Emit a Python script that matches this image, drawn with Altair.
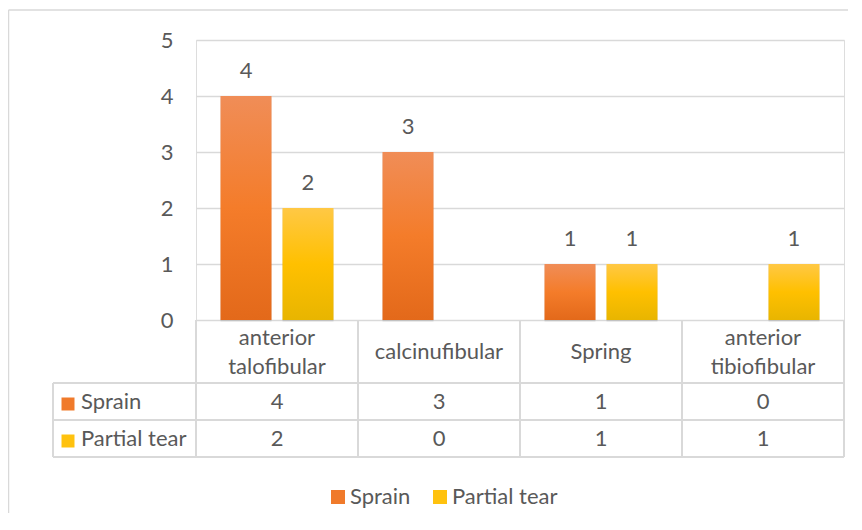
import altair as alt
import pandas as pd

categories = ["anterior talofibular", "calcinufibular", "Spring", "anterior tibiofibular"]
series = ["Sprain", "Partial tear"]
sprain = [4, 3, 1, 0]
partial_tear = [2, 0, 1, 1]
y_ticks = [0, 1, 2, 3, 4, 5]

rows = []
for c, s, p in zip(categories, sprain, partial_tear):
    rows.append({"category": c, "series": "Sprain", "value": s})
    rows.append({"category": c, "series": "Partial tear", "value": p})
df = pd.DataFrame(rows)
cat_df = pd.DataFrame({"category": categories})
ser_df = pd.DataFrame({"series": series})

FONT = "Lato"
TXT = "#595959"
LINE = "#d9d9d9"
FS = 22
W, H = 648, 280

orange_grad = alt.LinearGradient(
    gradient="linear", x1=0, x2=0, y1=0, y2=1,
    stops=[alt.GradientStop(color="#F08D57", offset=0),
           alt.GradientStop(color="#F47C2A", offset=0.5),
           alt.GradientStop(color="#E3691A", offset=1)])
yellow_grad = alt.LinearGradient(
    gradient="linear", x1=0, x2=0, y1=0, y2=1,
    stops=[alt.GradientStop(color="#FFC845", offset=0),
           alt.GradientStop(color="#FFC000", offset=0.5),
           alt.GradientStop(color="#E8B500", offset=1)])

xenc = alt.X("category:N", sort=categories,
             scale=alt.Scale(domain=categories, paddingInner=0, paddingOuter=0), axis=None)
xoff = alt.XOffset("series:N", sort=series,
                   scale=alt.Scale(domain=series, paddingInner=0.177, paddingOuter=0.395))
yenc = alt.Y("value:Q", scale=alt.Scale(domain=[0, 5]),
             axis=alt.Axis(values=y_ticks, title=None, ticks=False, domain=False,
                           labelPadding=23, grid=True, gridColor=LINE, gridWidth=1.5,
                           labelFont=FONT, labelFontSize=FS, labelColor=TXT))

base = alt.Chart(df).transform_filter("datum.value > 0")

shadow = base.mark_bar(color="#000000", opacity=0.10, xOffset=2.5, yOffset=1.5).encode(
    x=xenc, xOffset=xoff, y=yenc)
bars_s = base.transform_filter("datum.series == 'Sprain'").mark_bar(color=orange_grad).encode(
    x=xenc, xOffset=xoff, y=yenc)
bars_p = base.transform_filter("datum.series == 'Partial tear'").mark_bar(color=yellow_grad).encode(
    x=xenc, xOffset=xoff, y=yenc)
labels = base.mark_text(font=FONT, fontSize=FS, color=TXT, baseline="middle", dy=-25).encode(
    x=xenc, xOffset=xoff, y=yenc, text="value:Q")

one = alt.Data(values=[{}])
rule_style = dict(color=LINE, strokeWidth=2)

# table grid lines
hlines = [
    alt.Chart(one).mark_rule(**rule_style).encode(
        x=alt.value(-143), x2=alt.value(W), y=alt.value(yy))
    for yy in (343, 380, 417)
]
vcat = alt.Chart(cat_df).mark_rule(**rule_style).encode(
    x=alt.X("category:N", sort=categories, bandPosition=0,
            scale=alt.Scale(domain=categories, paddingInner=0, paddingOuter=0), axis=None),
    y=alt.value(H), y2=alt.value(417))
vend = alt.Chart(one).mark_rule(**rule_style).encode(
    x=alt.value(W), y=alt.value(H), y2=alt.value(417))
vleft = alt.Chart(one).mark_rule(**rule_style).encode(
    x=alt.value(-143), y=alt.value(343), y2=alt.value(417))

# outer chart border
border_l = alt.Chart(one).mark_rule(color=LINE, strokeWidth=1.5).encode(
    x=alt.value(-187.5), y=alt.value(-30), y2=alt.value(600))
border_t = alt.Chart(one).mark_rule(color=LINE, strokeWidth=1.5).encode(
    x=alt.value(-187.5), x2=alt.value(900), y=alt.value(-30))

header_multi = alt.Chart(cat_df).transform_filter("indexof(datum.category, ' ') >= 0").mark_text(
    font=FONT, fontSize=FS, color=TXT, baseline="middle",
    lineBreak=" ", lineHeight=29, dy=-14).encode(
    x=xenc, y=alt.value(312), text="category:N")
header_single = alt.Chart(cat_df).transform_filter("indexof(datum.category, ' ') < 0").mark_text(
    font=FONT, fontSize=FS, color=TXT, baseline="middle").encode(
    x=xenc, y=alt.value(312), text="category:N")

row_y = {"Sprain": 362, "Partial tear": 399}
table_vals = [
    alt.Chart(df).transform_filter(f"datum.series == '{s}'").mark_text(
        font=FONT, fontSize=FS, color=TXT, baseline="middle").encode(
        x=xenc, y=alt.value(row_y[s]), text="value:Q")
    for s in series
]
row_names = [
    alt.Chart(ser_df).transform_filter(f"datum.series == '{s}'").mark_text(
        font=FONT, fontSize=FS, color=TXT, baseline="middle", align="left").encode(
        x=alt.value(-115), y=alt.value(row_y[s]), text="series:N")
    for s in series
]
color_enc = alt.Color("series:N", sort=series,
                      scale=alt.Scale(domain=series, range=["#F07A2B", "#FFC20E"]),
                      legend=alt.Legend(orient="none", legendX=131, legendY=446,
                                        direction="horizontal", title=None,
                                        symbolType="square", symbolSize=196,
                                        symbolStrokeWidth=0, symbolOpacity=1,
                                        labelFont=FONT, labelFontSize=FS, labelColor=TXT,
                                        labelOffset=1, columnPadding=18, padding=0))
row_squares = [
    alt.Chart(ser_df).transform_filter(f"datum.series == '{s}'").mark_square(
        size=169, opacity=1, filled=True).encode(
        x=alt.value(-128), y=alt.value(row_y[s] + 2), color=color_enc)
    for s in series
]

chart = alt.layer(
    border_l, border_t,
    shadow, bars_s, bars_p, labels,
    *hlines, vcat, vend, vleft,
    header_multi, header_single, *table_vals, *row_names, *row_squares,
).properties(
    width=W, height=H,
    autosize=alt.AutoSizeParams(type="none"),
    padding={"left": 188, "top": 32, "right": 4, "bottom": 193},
).configure_view(stroke=None).configure(background="white")

chart.save("out.html", embed_options={"renderer": "svg", "actions": False})
